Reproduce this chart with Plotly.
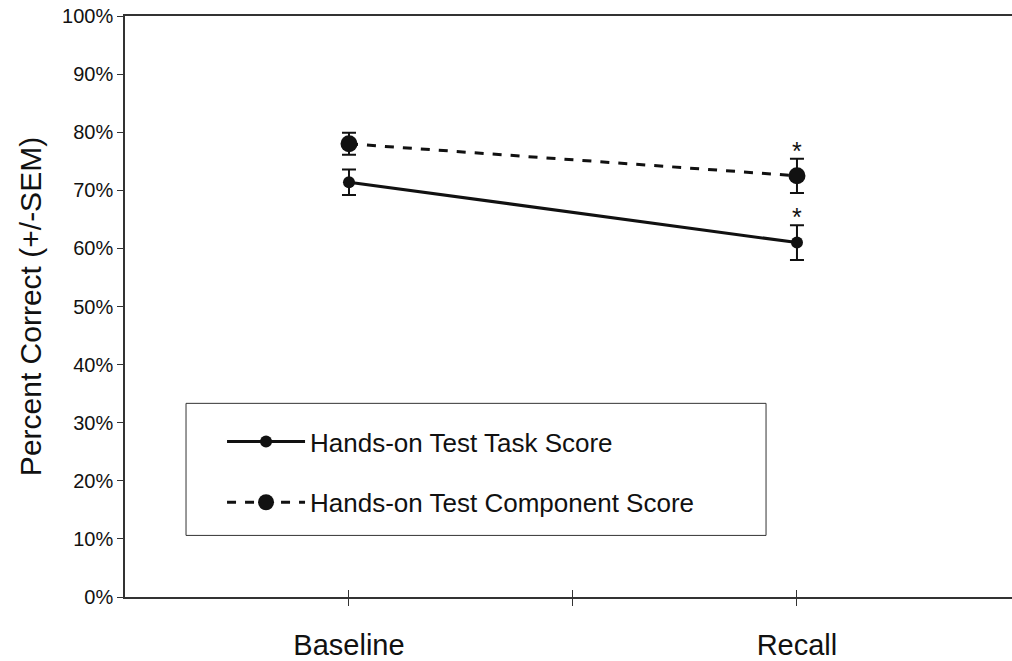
import plotly.graph_objects as go

categories = ["Baseline", "Recall"]
cat_pos = [1, 3]
task_mean = [71.4, 61.0]
task_sem = [2.2, 3.0]
comp_mean = [78.0, 72.5]
comp_sem = [1.9, 2.95]
signif = ["", "*"]
y_ticks = [0, 10, 20, 30, 40, 50, 60, 70, 80, 90, 100]
y_ticklabels = [f"{v}%" for v in y_ticks]

BLK = "#111111"
AX = "#333333"
FONT = "Liberation Sans, Arial, sans-serif"

fig = go.Figure()
fig.add_trace(go.Scatter(
    x=cat_pos, y=task_mean, mode="lines+markers",
    name="Hands-on Test Task Score", legendgroup="a",
    line=dict(color=BLK, width=3),
    marker=dict(color=BLK, size=12),
    error_y=dict(type="data", array=task_sem, visible=True, color=BLK, thickness=2, width=7),
))
fig.add_trace(go.Scatter(
    x=cat_pos, y=comp_mean, mode="lines+markers",
    name="Hands-on Test Component Score", legendgroup="b",
    line=dict(color=BLK, width=3, dash="dash"),
    marker=dict(color=BLK, size=17),
    error_y=dict(type="data", array=comp_sem, visible=True, color=BLK, thickness=2, width=7),
))

# significance asterisks
for xs, means, sems in [(cat_pos, task_mean, task_sem), (cat_pos, comp_mean, comp_sem)]:
    for xv, m, s, sg in zip(xs, means, sems, signif):
        if sg:
            fig.add_annotation(x=xv, y=m + s, text=sg, showarrow=False,
                               yanchor="bottom", yshift=-8,
                               font=dict(size=25, color=BLK, family=FONT))

# legend frame
fig.add_shape(type="rect", xref="paper", yref="paper",
              x0=0.0688, x1=0.7227, y0=0.106, y1=0.3333,
              line=dict(color=AX, width=1), fillcolor="white", layer="below")

fig.update_layout(
    width=1012, height=661,
    margin=dict(l=125, r=0, t=16, b=61),
    paper_bgcolor="white", plot_bgcolor="white",
    font=dict(family=FONT, color=BLK),
    showlegend=True,
    legend=dict(
        x=0.1094, y=0.308, xanchor="left", yanchor="top",
        borderwidth=0, bgcolor="rgba(0,0,0,0)",
        font=dict(size=26, family=FONT, color=BLK),
        itemwidth=78, tracegroupgap=24,
    ),
    xaxis=dict(
        range=[0, 3.96], tickmode="array", tickvals=[1, 2, 3],
        ticktext=[categories[0], "", categories[1]],
        ticks="outside", ticklen=7, tickwidth=1, tickcolor=AX,
        showline=True, linecolor=AX, linewidth=1.5, mirror=False,
        showgrid=False, zeroline=False,
        tickfont=dict(size=29, family=FONT, color=BLK),
        ticklabelstandoff=14,
    ),
    xaxis2=dict(
        range=[0, 3.96], overlaying="x", tickmode="array", tickvals=[1, 2, 3],
        showticklabels=False, ticks="inside", ticklen=7, tickwidth=1, tickcolor=AX,
        showgrid=False, zeroline=False, showline=False, side="bottom",
    ),
    xaxis3=dict(
        range=[0, 3.96], overlaying="x", side="top", showticklabels=False, ticks="",
        showline=True, linecolor=AX, linewidth=1.5, showgrid=False, zeroline=False,
    ),
    yaxis=dict(
        range=[0, 100], tickmode="array", tickvals=y_ticks, ticktext=y_ticklabels,
        ticks="outside", ticklen=6, tickcolor=AX,
        showline=True, linecolor=AX, linewidth=1.5,
        showgrid=False, zeroline=False,
        tickfont=dict(size=20, family=FONT, color=BLK),
        title=dict(text="Percent Correct (+/-SEM)", font=dict(size=30, family=FONT, color=BLK), standoff=12),
    ),
)
# dummy invisible traces to activate overlay axes
fig.add_trace(go.Scatter(x=[None], y=[None], xaxis="x2", showlegend=False, hoverinfo="skip"))
fig.add_trace(go.Scatter(x=[None], y=[None], xaxis="x3", showlegend=False, hoverinfo="skip"))

fig.write_html("out.html", config={"displayModeBar": False},
               post_script="document.body.style.margin='0';document.body.style.overflow='hidden';")
